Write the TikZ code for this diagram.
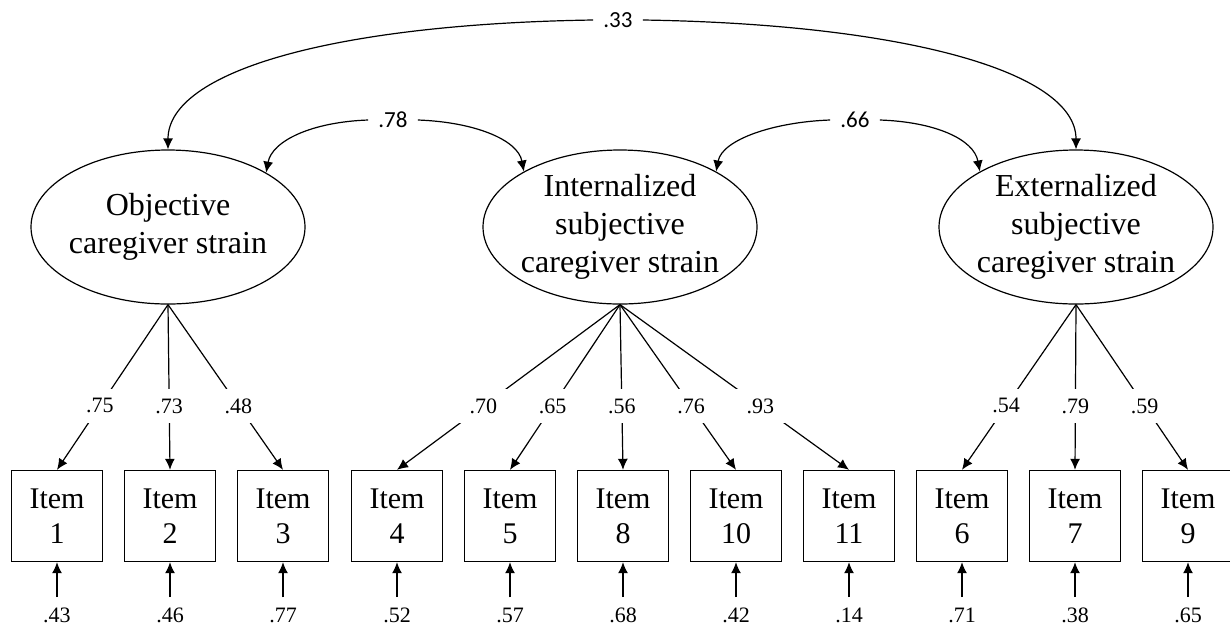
\documentclass[tikz,border=0pt]{standalone}
\usepackage{fontspec}
\setmainfont{Liberation Serif}
\newfontfamily\corrfont{Carlito}
\usetikzlibrary{shapes.geometric,arrows.meta}
\begin{document}
\begin{tikzpicture}[x=0.5pt,y=-0.5pt,
  latent/.style={ellipse,draw,line width=0.6pt,minimum width=137pt,minimum height=77pt,inner sep=-1.2pt,align=center,font=\fontsize{16}{19}\selectfont},
  itembox/.style={rectangle,draw,line width=0.7pt,minimum width=45.5pt,minimum height=45.5pt,inner sep=0pt,align=center,font=\fontsize{15}{17.5}\selectfont},
  arr/.style={-{Latex[length=5.5pt,width=5pt]},line width=0.6pt},
  load/.style={fill=white,inner sep=0pt,minimum width=25pt,minimum height=17pt,font=\fontsize{11}{12}\selectfont,pos=0.613},
  corr/.style={font=\corrfont\fontsize{11.5}{12}\selectfont,inner xsep=5pt,inner ysep=1pt},
  resid/.style={font=\fontsize{11}{12}\selectfont,inner xsep=1pt,inner ysep=5pt}]
\useasboundingbox (0,0) rectangle (1230,628);

% latent variables
\node[latent] (obj) at (168,227) {Objective\\caregiver strain};
\node[latent] (int) at (620,227) {Internalized\\subjective\\caregiver strain};
\node[latent] (ext) at (1076,227) {Externalized\\subjective\\caregiver strain};

% items
\foreach \n/\x/\t in {b1/57/1, b2/170/2, b3/283/3, b4/397/4, b5/510/5, b8/623/8, b10/736/10, b11/849/11, b6/962/6, b7/1075/7, b9/1188/9}
  \node[itembox] (\n) at (\x,516) {Item\\\t};

% residual labels
\foreach \n/\x/\v in {r1/57/.43, r2/170/.46, r3/283/.77, r4/397/.52, r5/510/.57, r8/623/.68, r10/736/.42, r11/849/.14, r6/962/.71, r7/1075/.38, r9/1188/.65}
  \node[resid] (\n) at (\x,615) {\v};
\foreach \r/\b in {r1/b1, r2/b2, r3/b3, r4/b4, r5/b5, r8/b8, r10/b10, r11/b11, r6/b6, r7/b7, r9/b9}
  \draw[arr] (\r.north) -- (\b.south);

% loadings
\draw[arr] (obj.south) -- node[load] {.75} (b1.north);
\draw[arr] (obj.south) -- node[load] {.73} (b2.north);
\draw[arr] (obj.south) -- node[load] {.48} (b3.north);
\draw[arr] (int.south) -- node[load] {.70} (b4.north);
\draw[arr] (int.south) -- node[load] {.65} (b5.north);
\draw[arr] (int.south) -- node[load] {.56} (b8.north);
\draw[arr] (int.south) -- node[load] {.76} (b10.north);
\draw[arr] (int.south) -- node[load] {.93} (b11.north);
\draw[arr] (ext.south) -- node[load] {.54} (b6.north);
\draw[arr] (ext.south) -- node[load] {.79} (b7.north);
\draw[arr] (ext.south) -- node[load] {.59} (b9.north);

% correlations
\node[corr] (c33) at (618,20) {.33};
\node[corr] (c78) at (393,120) {.78};
\node[corr] (c66) at (855,120) {.66};

\draw[arr] (c33.west) .. controls +(-260,4) and +(0,-78) .. (obj.north);
\draw[arr] (c33.east) .. controls +(260,4) and +(0,-78) .. (ext.north);
\draw[arr] (c78.west) .. controls +(-56,2) and +(6,-32) .. (obj.29);
\draw[arr] (c78.east) .. controls +(56,2) and +(-6,-32) .. (int.150);
\draw[arr] (c66.west) .. controls +(-56,2) and +(6,-32) .. (int.30);
\draw[arr] (c66.east) .. controls +(56,2) and +(-6,-32) .. (ext.150);
\end{tikzpicture}
\end{document}
